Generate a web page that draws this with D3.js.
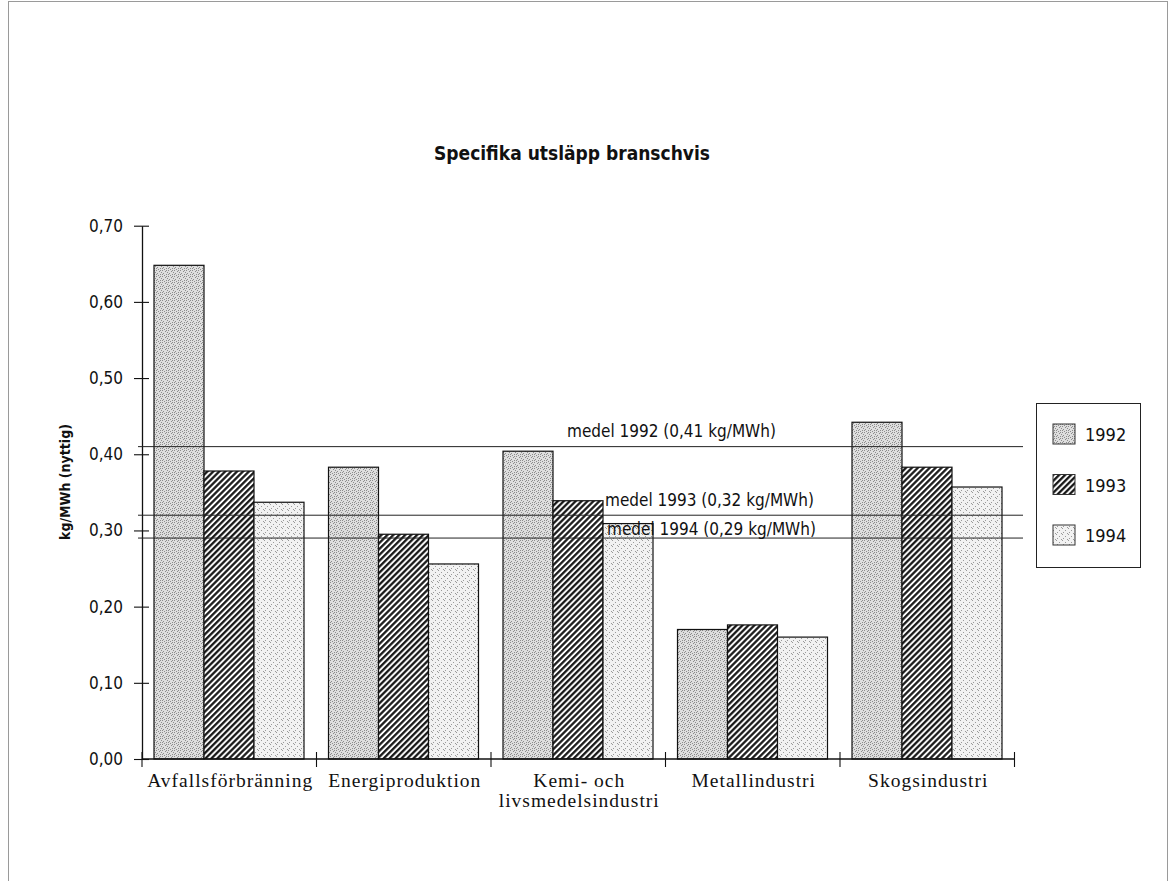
<!DOCTYPE html>
<html><head><meta charset="utf-8">
<script src="https://cdn.jsdelivr.net/npm/d3@7"></script>
<style>
html,body{margin:0;padding:0;background:#fff;}
svg{display:block;}
.cond{font-family:"DejaVu Sans Condensed","Liberation Sans Narrow",sans-serif;font-stretch:condensed;}
.serif{font-family:"Liberation Serif","Times New Roman",serif;}
</style></head>
<body>
<script>
// ---- data ----
const categories = ["Avfallsförbränning","Energiproduktion","Kemi- och|livsmedelsindustri","Metallindustri","Skogsindustri"];
const years = ["1992","1993","1994"];
const v1992 = [0.648, 0.383, 0.404, 0.170, 0.442];
const v1993 = [0.378, 0.295, 0.339, 0.176, 0.383];
const v1994 = [0.337, 0.256, 0.309, 0.160, 0.357];
const meanValues = [0.41, 0.32, 0.29];
const meanLabels = ["medel 1992 (0,41 kg/MWh)","medel 1993 (0,32 kg/MWh)","medel 1994 (0,29 kg/MWh)"];
const yTicks = [0,0.1,0.2,0.3,0.4,0.5,0.6,0.7];
const title = "Specifika utsläpp branschvis";
const yTitle = "kg/MWh (nyttig)";

const series = [v1992, v1993, v1994];
const W = 1170, H = 881;
const svg = d3.select("body").append("svg").attr("width", W).attr("height", H);

// patterns
const defs = svg.append("defs");
function stipple(id, bg, dots, color){
  const p = defs.append("pattern").attr("id", id).attr("patternUnits","userSpaceOnUse").attr("width",6).attr("height",6);
  p.append("rect").attr("width",6).attr("height",6).attr("fill",bg);
  dots.forEach(d=>p.append("rect").attr("x",d[0]).attr("y",d[1]).attr("width",1).attr("height",1).attr("fill",color));
}
stipple("p1992", "#dedede", [[0,0],[3,1],[1,3],[4,4],[5,2],[2,5],[0,4],[4,0]], "#8c8c8c");
stipple("p1994", "#f2f2f2", [[0,0],[3,2],[1,4],[5,5]], "#9a9a9a");
const hp = defs.append("pattern").attr("id","p1993").attr("patternUnits","userSpaceOnUse")
  .attr("width",4.2).attr("height",4.2).attr("patternTransform","rotate(45)");
hp.append("rect").attr("width",4.2).attr("height",4.2).attr("fill","#fff");
hp.append("line").attr("x1",1.2).attr("y1",0).attr("x2",1.2).attr("y2",4.2).attr("stroke","#111").attr("stroke-width",2.2);
const fills = ["url(#p1992)","url(#p1993)","url(#p1994)"];

// frame
svg.append("rect").attr("x",8.5).attr("y",1.5).attr("width",1159).attr("height",920)
  .attr("fill","none").attr("stroke","#9a9a9a").attr("stroke-width",1);

// scales
const x0 = d3.scaleBand().domain(categories).range([142, 1014.5]).paddingInner(0).paddingOuter(0);
const x1 = d3.scaleBand().domain(years).range([12, 162]);
const y = d3.scaleLinear().domain([0, 0.7]).range([759, 225.7]);

// title
svg.append("text").attr("class","cond").attr("x",572).attr("y",160).attr("text-anchor","middle")
  .attr("font-size",19).attr("font-weight","bold").attr("fill","#111").text(title);

// y title
svg.append("text").attr("class","cond").attr("transform","translate(70,482) rotate(-90)")
  .attr("text-anchor","middle").attr("font-size",14).attr("font-weight","bold").attr("fill","#111").text(yTitle);

// bars
const g = svg.append("g");
categories.forEach((c,i)=>{
  years.forEach((yr,j)=>{
    const v = series[j][i];
    g.append("rect").attr("x", x0(c)+x1(yr)).attr("y", y(v))
      .attr("width", x1.bandwidth()).attr("height", y(0)-y(v))
      .attr("fill", fills[j]).attr("stroke","#111").attr("stroke-width",1.2);
  });
});

// y axis
const yAxis = d3.axisLeft(y).tickValues(yTicks).tickSizeOuter(0).tickSizeInner(8).tickPadding(12)
  .tickFormat(d=>d3.format(".2f")(d).replace(".",","));
const ya = svg.append("g").attr("transform","translate(142,0)").call(yAxis);
ya.select(".domain").attr("stroke","#111").attr("stroke-width",1.3);
ya.selectAll(".tick line").attr("x1",7).attr("x2",-8).attr("stroke","#111").attr("stroke-width",1.1);
ya.selectAll(".tick text").attr("class","cond").attr("font-size",17).attr("fill","#111").attr("x",-19);

// x axis
svg.append("line").attr("x1",142).attr("x2",1014.5).attr("y1",y(0)).attr("y2",y(0)).attr("stroke","#111").attr("stroke-width",1.3);
const bounds = categories.map(c=>x0(c)).concat([x0.range()[1]]);
svg.selectAll(".xt").data(bounds).enter().append("line")
  .attr("x1",d=>d).attr("x2",d=>d).attr("y1",y(0)-7).attr("y2",y(0)+8).attr("stroke","#111").attr("stroke-width",1.1);
categories.forEach(c=>{
  const lines = c.split("|");
  const t = svg.append("text").attr("class","serif").attr("text-anchor","middle")
    .attr("font-size",19.5).attr("letter-spacing",1).attr("fill","#111");
  lines.forEach((l,k)=>t.append("tspan").attr("x", x0(c)+x0.bandwidth()/2+1).attr("y", 787 + k*20).text(l));
});

// mean lines
const labelX = [567, 605, 607];
const labelDy = [-10, -9, -3];
meanValues.forEach((m,i)=>{
  svg.append("line").attr("x1",138).attr("x2",1023).attr("y1",y(m)).attr("y2",y(m))
    .attr("stroke","#222").attr("stroke-width",1);
  svg.append("text").attr("class","cond").attr("x",labelX[i]).attr("y",y(m)+labelDy[i])
    .attr("font-size",17).attr("fill","#111").text(meanLabels[i]);
});

// legend
const lg = svg.append("g");
lg.append("rect").attr("x",1036.5).attr("y",403.5).attr("width",104).attr("height",164)
  .attr("fill","#fff").attr("stroke","#222").attr("stroke-width",1);
years.forEach((yr,j)=>{
  const cy = 434 + j*50.5;
  lg.append("rect").attr("x",1053).attr("y",cy-10).attr("width",22).attr("height",20)
    .attr("fill",fills[j]).attr("stroke","#333").attr("stroke-width",1);
  lg.append("text").attr("class","cond").attr("x",1085).attr("y",cy+7).attr("font-size",18).attr("fill","#111").text(yr);
});
</script>
</body></html>
